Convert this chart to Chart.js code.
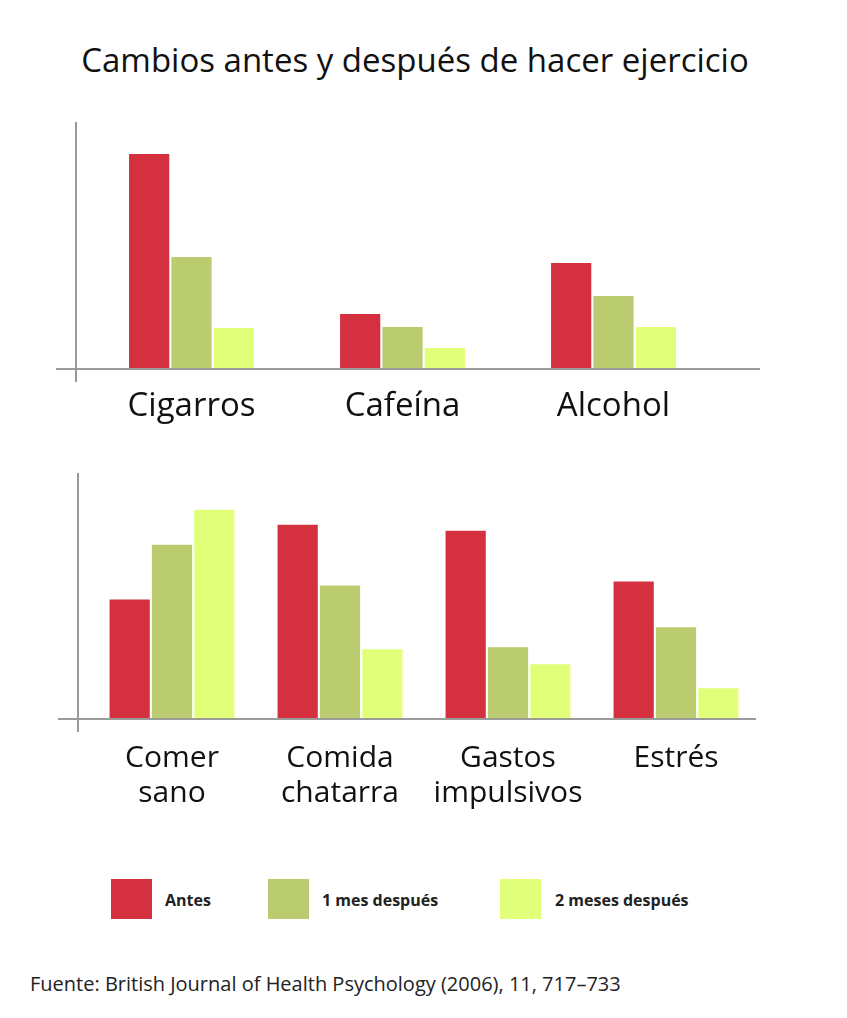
<!DOCTYPE html>
<html>
<head>
<meta charset="utf-8">
<script src="https://cdn.jsdelivr.net/npm/chart.js@4"></script>
<style>
  body { margin: 0; background: #fff; font-family: "Open Sans", sans-serif; color: #111; }
  #page { position: relative; width: 847px; height: 1018px; overflow: hidden; }
  #title { position: absolute; left: 0; width: 830px; top: 37px; text-align: center; font-size: 33px; }
  .chartBox { position: absolute; left: 0; width: 847px; }
  #topBox { top: 100px; height: 340px; }
  #bottomBox { top: 450px; height: 380px; }
  .key { position: absolute; top: 879px; width: 41px; height: 40px; }
  .keyText { position: absolute; top: 889px; font-size: 16px; font-weight: 700; color: #222; }
  #source { position: absolute; left: 30px; top: 970px; font-size: 20px; color: #222; }
</style>
</head>
<body>
<div id="page">
  <div id="title">Cambios antes y después de hacer ejercicio</div>
  <div class="chartBox" id="topBox"><canvas id="topChart"></canvas></div>
  <div class="chartBox" id="bottomBox"><canvas id="bottomChart"></canvas></div>

  <div class="key" style="left:111px;background:#d4303f"></div>
  <div class="keyText" style="left:165px">Antes</div>
  <div class="key" style="left:268px;background:#bbcb6f"></div>
  <div class="keyText" style="left:322px">1 mes después</div>
  <div class="key" style="left:500px;background:#e2ff7a"></div>
  <div class="keyText" style="left:555px">2 meses después</div>

  <div id="source">Fuente: British Journal of Health Psychology (2006), 11, 717–733</div>
</div>
<script>
// values (relative bar heights, no scale shown)
const topCategories = ['Cigarros', 'Cafeína', 'Alcohol'];
const topAntes = [215, 55, 106];
const topUnMes = [112, 42, 73];
const topDosMeses = [41, 21, 42];

const bottomCategories = [['Comer', 'sano'], ['Comida', 'chatarra'], ['Gastos', 'impulsivos'], ['Estrés']];
const bottomAntes = [120, 195, 189, 138];
const bottomUnMes = [175, 134, 72, 92];
const bottomDosMeses = [210, 70, 55, 31];

const seriesNames = ['Antes', '1 mes después', '2 meses después'];
const colors = ['#d4303f', '#bbcb6f', '#e2ff7a'];

// draws the grey axis lines, which run past the plot area a bit
const axisLines = {
    id: 'axisLines',
    afterDraw(chart, args, opts) {
        const { ctx, chartArea } = chart;
        const base = chart.scales.y.getPixelForValue(0);
        ctx.save();
        ctx.strokeStyle = '#9b9b9b';
        ctx.lineWidth = 2;
        ctx.beginPath();
        ctx.moveTo(chartArea.left - 10, chartArea.top);
        ctx.lineTo(chartArea.left - 10, base + 13);
        ctx.moveTo(chartArea.left - 30, base);
        ctx.lineTo(opts.right, base);
        ctx.stroke();
        ctx.restore();
    }
};

function makeChart(id, labels, values, opt) {
    return new Chart(document.getElementById(id), {
        type: 'bar',
        data: {
            labels: labels,
            datasets: values.map((v, i) => ({
                label: seriesNames[i],
                data: v,
                backgroundColor: colors[i],
                borderWidth: 0,
                categoryPercentage: opt.catPct,
                barPercentage: 0.95
            }))
        },
        options: {
            responsive: true,
            maintainAspectRatio: false,
            animation: false,
            layout: { padding: opt.padding },
            plugins: {
                legend: { display: false },
                tooltip: { enabled: false },
                axisLines: { right: opt.axisRight }
            },
            scales: {
                x: {
                    grid: { display: false },
                    border: { display: false },
                    ticks: {
                        color: '#111',
                        padding: opt.tickPad,
                        maxRotation: 0,
                        autoSkip: false,
                        font: { family: 'Open Sans', size: opt.fontSize, lineHeight: opt.lineHeight }
                    },
                    afterFit: s => { s.height = opt.xHeight; }
                },
                y: {
                    display: false,
                    min: 0,
                    max: 247
                }
            }
        },
        plugins: [axisLines]
    });
}

makeChart('topChart', topCategories, [topAntes, topUnMes, topDosMeses], {
    catPct: 0.602,
    padding: { top: 22, left: 86, right: 128, bottom: 0 },
    axisRight: 760,
    tickPad: 10,
    fontSize: 33,
    lineHeight: 1.2,
    xHeight: 71
});

makeChart('bottomChart', bottomCategories, [bottomAntes, bottomUnMes, bottomDosMeses], {
    catPct: 0.756,
    padding: { top: 23, left: 88, right: 87, bottom: 0 },
    axisRight: 756,
    tickPad: 14,
    fontSize: 30,
    lineHeight: 1.17,
    xHeight: 111
});
</script>
</body>
</html>
